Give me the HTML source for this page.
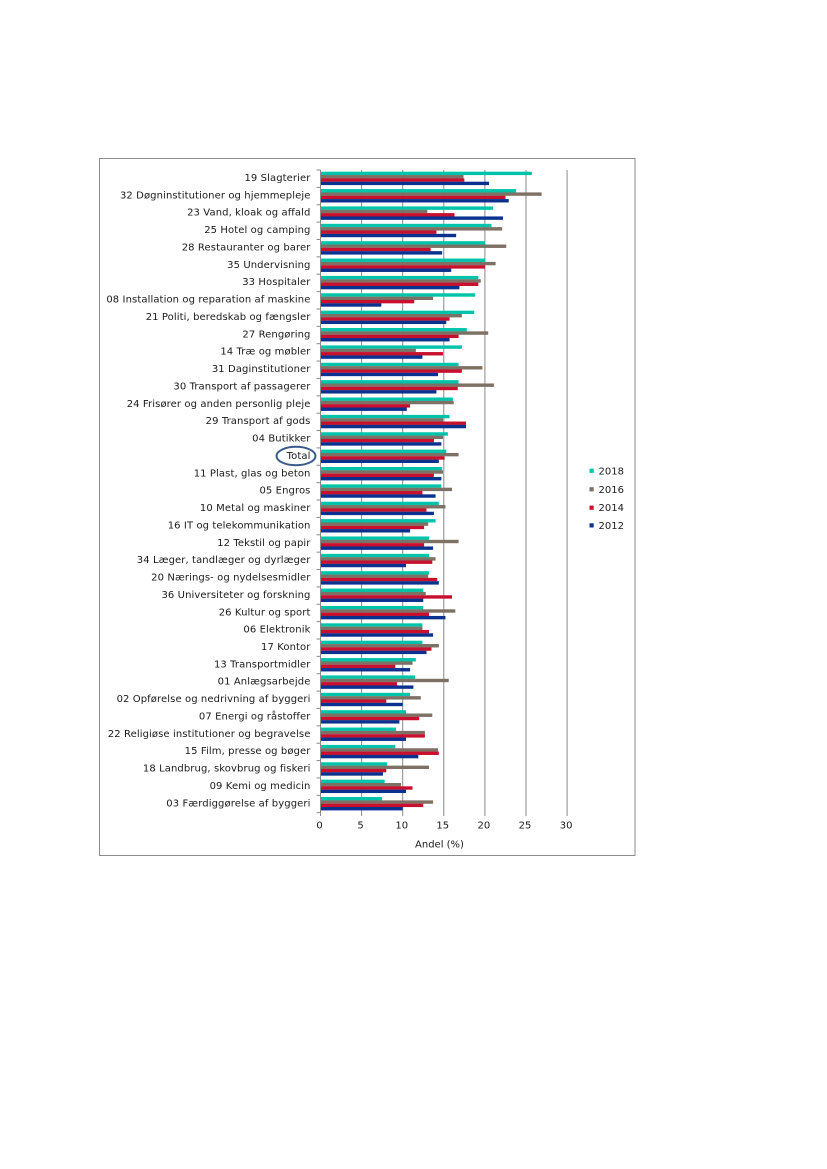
<!DOCTYPE html>
<html>
<head>
<meta charset="utf-8">
<style>
html,body{margin:0;padding:0;background:#fff;}
svg{display:block;}
text{font-family:"DejaVu Sans","Liberation Sans",sans-serif;fill:#1a1a1a;}
.cat text{letter-spacing:0.1px;}
</style>
</head>
<body>
<svg width="827" height="1169" viewBox="0 0 827 1169" xmlns="http://www.w3.org/2000/svg">
<rect x="0" y="0" width="827" height="1169" fill="#fff"/>
<rect x="99.5" y="158.5" width="535.5" height="697" fill="none" stroke="#8c8c8c" stroke-width="1"/>

<!-- gridlines -->
<g stroke="#8a8a8a" stroke-width="1">
<line x1="361.6" y1="170" x2="361.6" y2="816"/>
<line x1="402.7" y1="170" x2="402.7" y2="816"/>
<line x1="443.8" y1="170" x2="443.8" y2="816"/>
<line x1="484.9" y1="170" x2="484.9" y2="816"/>
<line x1="526" y1="170" x2="526" y2="816"/>
<line x1="567.1" y1="170" x2="567.1" y2="816"/>
</g>

<!-- bars -->
<g transform="translate(320.5,170) scale(8.22,17.37)">
<g transform="translate(0,0)"><rect y="0.098" height="0.196" width="25.7" fill="#00c4aa"/><rect y="0.29" height="0.196" width="17.4" fill="#7d7064"/><rect y="0.481" height="0.196" width="17.5" fill="#c8102e"/><rect y="0.673" height="0.196" width="20.5" fill="#0b318f"/></g>
<g transform="translate(0,1)"><rect y="0.098" height="0.196" width="23.8" fill="#00c4aa"/><rect y="0.29" height="0.196" width="26.9" fill="#7d7064"/><rect y="0.481" height="0.196" width="22.5" fill="#c8102e"/><rect y="0.673" height="0.196" width="22.9" fill="#0b318f"/></g>
<g transform="translate(0,2)"><rect y="0.098" height="0.196" width="21.0" fill="#00c4aa"/><rect y="0.29" height="0.196" width="13.0" fill="#7d7064"/><rect y="0.481" height="0.196" width="16.3" fill="#c8102e"/><rect y="0.673" height="0.196" width="22.2" fill="#0b318f"/></g>
<g transform="translate(0,3)"><rect y="0.098" height="0.196" width="20.8" fill="#00c4aa"/><rect y="0.29" height="0.196" width="22.1" fill="#7d7064"/><rect y="0.481" height="0.196" width="14.1" fill="#c8102e"/><rect y="0.673" height="0.196" width="16.5" fill="#0b318f"/></g>
<g transform="translate(0,4)"><rect y="0.098" height="0.196" width="20.0" fill="#00c4aa"/><rect y="0.29" height="0.196" width="22.6" fill="#7d7064"/><rect y="0.481" height="0.196" width="13.4" fill="#c8102e"/><rect y="0.673" height="0.196" width="14.8" fill="#0b318f"/></g>
<g transform="translate(0,5)"><rect y="0.098" height="0.196" width="20.0" fill="#00c4aa"/><rect y="0.29" height="0.196" width="21.3" fill="#7d7064"/><rect y="0.481" height="0.196" width="20.0" fill="#c8102e"/><rect y="0.673" height="0.196" width="15.9" fill="#0b318f"/></g>
<g transform="translate(0,6)"><rect y="0.098" height="0.196" width="19.2" fill="#00c4aa"/><rect y="0.29" height="0.196" width="19.5" fill="#7d7064"/><rect y="0.481" height="0.196" width="19.2" fill="#c8102e"/><rect y="0.673" height="0.196" width="16.9" fill="#0b318f"/></g>
<g transform="translate(0,7)"><rect y="0.098" height="0.196" width="18.8" fill="#00c4aa"/><rect y="0.29" height="0.196" width="13.7" fill="#7d7064"/><rect y="0.481" height="0.196" width="11.4" fill="#c8102e"/><rect y="0.673" height="0.196" width="7.4" fill="#0b318f"/></g>
<g transform="translate(0,8)"><rect y="0.098" height="0.196" width="18.7" fill="#00c4aa"/><rect y="0.29" height="0.196" width="17.2" fill="#7d7064"/><rect y="0.481" height="0.196" width="15.7" fill="#c8102e"/><rect y="0.673" height="0.196" width="15.3" fill="#0b318f"/></g>
<g transform="translate(0,9)"><rect y="0.098" height="0.196" width="17.8" fill="#00c4aa"/><rect y="0.29" height="0.196" width="20.4" fill="#7d7064"/><rect y="0.481" height="0.196" width="16.8" fill="#c8102e"/><rect y="0.673" height="0.196" width="15.7" fill="#0b318f"/></g>
<g transform="translate(0,10)"><rect y="0.098" height="0.196" width="17.2" fill="#00c4aa"/><rect y="0.29" height="0.196" width="11.6" fill="#7d7064"/><rect y="0.481" height="0.196" width="14.9" fill="#c8102e"/><rect y="0.673" height="0.196" width="12.4" fill="#0b318f"/></g>
<g transform="translate(0,11)"><rect y="0.098" height="0.196" width="16.8" fill="#00c4aa"/><rect y="0.29" height="0.196" width="19.7" fill="#7d7064"/><rect y="0.481" height="0.196" width="17.2" fill="#c8102e"/><rect y="0.673" height="0.196" width="14.3" fill="#0b318f"/></g>
<g transform="translate(0,12)"><rect y="0.098" height="0.196" width="16.8" fill="#00c4aa"/><rect y="0.29" height="0.196" width="21.1" fill="#7d7064"/><rect y="0.481" height="0.196" width="16.7" fill="#c8102e"/><rect y="0.673" height="0.196" width="14.1" fill="#0b318f"/></g>
<g transform="translate(0,13)"><rect y="0.098" height="0.196" width="16.1" fill="#00c4aa"/><rect y="0.29" height="0.196" width="16.2" fill="#7d7064"/><rect y="0.481" height="0.196" width="10.9" fill="#c8102e"/><rect y="0.673" height="0.196" width="10.5" fill="#0b318f"/></g>
<g transform="translate(0,14)"><rect y="0.098" height="0.196" width="15.7" fill="#00c4aa"/><rect y="0.29" height="0.196" width="14.9" fill="#7d7064"/><rect y="0.481" height="0.196" width="17.7" fill="#c8102e"/><rect y="0.673" height="0.196" width="17.7" fill="#0b318f"/></g>
<g transform="translate(0,15)"><rect y="0.098" height="0.196" width="15.5" fill="#00c4aa"/><rect y="0.29" height="0.196" width="14.9" fill="#7d7064"/><rect y="0.481" height="0.196" width="13.8" fill="#c8102e"/><rect y="0.673" height="0.196" width="14.7" fill="#0b318f"/></g>
<g transform="translate(0,16)"><rect y="0.098" height="0.196" width="15.3" fill="#00c4aa"/><rect y="0.29" height="0.196" width="16.8" fill="#7d7064"/><rect y="0.481" height="0.196" width="15.1" fill="#c8102e"/><rect y="0.673" height="0.196" width="14.4" fill="#0b318f"/></g>
<g transform="translate(0,17)"><rect y="0.098" height="0.196" width="14.8" fill="#00c4aa"/><rect y="0.29" height="0.196" width="14.9" fill="#7d7064"/><rect y="0.481" height="0.196" width="13.8" fill="#c8102e"/><rect y="0.673" height="0.196" width="14.7" fill="#0b318f"/></g>
<g transform="translate(0,18)"><rect y="0.098" height="0.196" width="14.7" fill="#00c4aa"/><rect y="0.29" height="0.196" width="16.0" fill="#7d7064"/><rect y="0.481" height="0.196" width="12.4" fill="#c8102e"/><rect y="0.673" height="0.196" width="14.0" fill="#0b318f"/></g>
<g transform="translate(0,19)"><rect y="0.098" height="0.196" width="14.4" fill="#00c4aa"/><rect y="0.29" height="0.196" width="15.2" fill="#7d7064"/><rect y="0.481" height="0.196" width="12.9" fill="#c8102e"/><rect y="0.673" height="0.196" width="13.8" fill="#0b318f"/></g>
<g transform="translate(0,20)"><rect y="0.098" height="0.196" width="14.0" fill="#00c4aa"/><rect y="0.29" height="0.196" width="13.1" fill="#7d7064"/><rect y="0.481" height="0.196" width="12.6" fill="#c8102e"/><rect y="0.673" height="0.196" width="10.9" fill="#0b318f"/></g>
<g transform="translate(0,21)"><rect y="0.098" height="0.196" width="13.2" fill="#00c4aa"/><rect y="0.29" height="0.196" width="16.8" fill="#7d7064"/><rect y="0.481" height="0.196" width="12.6" fill="#c8102e"/><rect y="0.673" height="0.196" width="13.7" fill="#0b318f"/></g>
<g transform="translate(0,22)"><rect y="0.098" height="0.196" width="13.2" fill="#00c4aa"/><rect y="0.29" height="0.196" width="14.0" fill="#7d7064"/><rect y="0.481" height="0.196" width="13.6" fill="#c8102e"/><rect y="0.673" height="0.196" width="10.4" fill="#0b318f"/></g>
<g transform="translate(0,23)"><rect y="0.098" height="0.196" width="13.2" fill="#00c4aa"/><rect y="0.29" height="0.196" width="13.1" fill="#7d7064"/><rect y="0.481" height="0.196" width="14.2" fill="#c8102e"/><rect y="0.673" height="0.196" width="14.4" fill="#0b318f"/></g>
<g transform="translate(0,24)"><rect y="0.098" height="0.196" width="12.5" fill="#00c4aa"/><rect y="0.29" height="0.196" width="12.8" fill="#7d7064"/><rect y="0.481" height="0.196" width="16.0" fill="#c8102e"/><rect y="0.673" height="0.196" width="12.5" fill="#0b318f"/></g>
<g transform="translate(0,25)"><rect y="0.098" height="0.196" width="12.5" fill="#00c4aa"/><rect y="0.29" height="0.196" width="16.4" fill="#7d7064"/><rect y="0.481" height="0.196" width="13.2" fill="#c8102e"/><rect y="0.673" height="0.196" width="15.2" fill="#0b318f"/></g>
<g transform="translate(0,26)"><rect y="0.098" height="0.196" width="12.4" fill="#00c4aa"/><rect y="0.29" height="0.196" width="12.4" fill="#7d7064"/><rect y="0.481" height="0.196" width="13.2" fill="#c8102e"/><rect y="0.673" height="0.196" width="13.7" fill="#0b318f"/></g>
<g transform="translate(0,27)"><rect y="0.098" height="0.196" width="12.4" fill="#00c4aa"/><rect y="0.29" height="0.196" width="14.4" fill="#7d7064"/><rect y="0.481" height="0.196" width="13.5" fill="#c8102e"/><rect y="0.673" height="0.196" width="12.9" fill="#0b318f"/></g>
<g transform="translate(0,28)"><rect y="0.098" height="0.196" width="11.6" fill="#00c4aa"/><rect y="0.29" height="0.196" width="11.2" fill="#7d7064"/><rect y="0.481" height="0.196" width="9.1" fill="#c8102e"/><rect y="0.673" height="0.196" width="10.9" fill="#0b318f"/></g>
<g transform="translate(0,29)"><rect y="0.098" height="0.196" width="11.5" fill="#00c4aa"/><rect y="0.29" height="0.196" width="15.6" fill="#7d7064"/><rect y="0.481" height="0.196" width="9.3" fill="#c8102e"/><rect y="0.673" height="0.196" width="11.3" fill="#0b318f"/></g>
<g transform="translate(0,30)"><rect y="0.098" height="0.196" width="10.9" fill="#00c4aa"/><rect y="0.29" height="0.196" width="12.2" fill="#7d7064"/><rect y="0.481" height="0.196" width="8.0" fill="#c8102e"/><rect y="0.673" height="0.196" width="10.0" fill="#0b318f"/></g>
<g transform="translate(0,31)"><rect y="0.098" height="0.196" width="10.4" fill="#00c4aa"/><rect y="0.29" height="0.196" width="13.6" fill="#7d7064"/><rect y="0.481" height="0.196" width="12.0" fill="#c8102e"/><rect y="0.673" height="0.196" width="9.6" fill="#0b318f"/></g>
<g transform="translate(0,32)"><rect y="0.098" height="0.196" width="9.2" fill="#00c4aa"/><rect y="0.29" height="0.196" width="12.7" fill="#7d7064"/><rect y="0.481" height="0.196" width="12.7" fill="#c8102e"/><rect y="0.673" height="0.196" width="10.4" fill="#0b318f"/></g>
<g transform="translate(0,33)"><rect y="0.098" height="0.196" width="9.1" fill="#00c4aa"/><rect y="0.29" height="0.196" width="14.3" fill="#7d7064"/><rect y="0.481" height="0.196" width="14.4" fill="#c8102e"/><rect y="0.673" height="0.196" width="11.9" fill="#0b318f"/></g>
<g transform="translate(0,34)"><rect y="0.098" height="0.196" width="8.1" fill="#00c4aa"/><rect y="0.29" height="0.196" width="13.2" fill="#7d7064"/><rect y="0.481" height="0.196" width="8.0" fill="#c8102e"/><rect y="0.673" height="0.196" width="7.6" fill="#0b318f"/></g>
<g transform="translate(0,35)"><rect y="0.098" height="0.196" width="7.8" fill="#00c4aa"/><rect y="0.29" height="0.196" width="9.8" fill="#7d7064"/><rect y="0.481" height="0.196" width="11.2" fill="#c8102e"/><rect y="0.673" height="0.196" width="10.4" fill="#0b318f"/></g>
<g transform="translate(0,36)"><rect y="0.098" height="0.196" width="7.5" fill="#00c4aa"/><rect y="0.29" height="0.196" width="13.7" fill="#7d7064"/><rect y="0.481" height="0.196" width="12.5" fill="#c8102e"/><rect y="0.673" height="0.196" width="10.0" fill="#0b318f"/></g>
</g>

<!-- left axis and ticks -->
<g stroke="#8a8a8a" stroke-width="1">
<line x1="320.5" y1="170" x2="320.5" y2="816"/>
<line x1="316.5" y1="170" x2="320.5" y2="170"/>
<line x1="316.5" y1="187.37" x2="320.5" y2="187.37"/>
<line x1="316.5" y1="204.74" x2="320.5" y2="204.74"/>
<line x1="316.5" y1="222.11" x2="320.5" y2="222.11"/>
<line x1="316.5" y1="239.48" x2="320.5" y2="239.48"/>
<line x1="316.5" y1="256.85" x2="320.5" y2="256.85"/>
<line x1="316.5" y1="274.22" x2="320.5" y2="274.22"/>
<line x1="316.5" y1="291.59" x2="320.5" y2="291.59"/>
<line x1="316.5" y1="308.96" x2="320.5" y2="308.96"/>
<line x1="316.5" y1="326.33" x2="320.5" y2="326.33"/>
<line x1="316.5" y1="343.7" x2="320.5" y2="343.7"/>
<line x1="316.5" y1="361.07" x2="320.5" y2="361.07"/>
<line x1="316.5" y1="378.44" x2="320.5" y2="378.44"/>
<line x1="316.5" y1="395.81" x2="320.5" y2="395.81"/>
<line x1="316.5" y1="413.18" x2="320.5" y2="413.18"/>
<line x1="316.5" y1="430.55" x2="320.5" y2="430.55"/>
<line x1="316.5" y1="447.92" x2="320.5" y2="447.92"/>
<line x1="316.5" y1="465.29" x2="320.5" y2="465.29"/>
<line x1="316.5" y1="482.66" x2="320.5" y2="482.66"/>
<line x1="316.5" y1="500.03" x2="320.5" y2="500.03"/>
<line x1="316.5" y1="517.4" x2="320.5" y2="517.4"/>
<line x1="316.5" y1="534.77" x2="320.5" y2="534.77"/>
<line x1="316.5" y1="552.14" x2="320.5" y2="552.14"/>
<line x1="316.5" y1="569.51" x2="320.5" y2="569.51"/>
<line x1="316.5" y1="586.88" x2="320.5" y2="586.88"/>
<line x1="316.5" y1="604.25" x2="320.5" y2="604.25"/>
<line x1="316.5" y1="621.62" x2="320.5" y2="621.62"/>
<line x1="316.5" y1="638.99" x2="320.5" y2="638.99"/>
<line x1="316.5" y1="656.36" x2="320.5" y2="656.36"/>
<line x1="316.5" y1="673.73" x2="320.5" y2="673.73"/>
<line x1="316.5" y1="691.1" x2="320.5" y2="691.1"/>
<line x1="316.5" y1="708.47" x2="320.5" y2="708.47"/>
<line x1="316.5" y1="725.84" x2="320.5" y2="725.84"/>
<line x1="316.5" y1="743.21" x2="320.5" y2="743.21"/>
<line x1="316.5" y1="760.58" x2="320.5" y2="760.58"/>
<line x1="316.5" y1="777.95" x2="320.5" y2="777.95"/>
<line x1="316.5" y1="795.32" x2="320.5" y2="795.32"/>
<line x1="316.5" y1="812.69" x2="320.5" y2="812.69"/>
</g>

<!-- category labels -->
<g class="cat" font-size="10" text-anchor="end">
<text x="310.5" y="181">19 Slagterier</text>
<text x="310.5" y="198.37">32 Døgninstitutioner og hjemmepleje</text>
<text x="310.5" y="215.74">23 Vand, kloak og affald</text>
<text x="310.5" y="233.11">25 Hotel og camping</text>
<text x="310.5" y="250.48">28 Restauranter og barer</text>
<text x="310.5" y="267.85">35 Undervisning</text>
<text x="310.5" y="285.22">33 Hospitaler</text>
<text x="310.5" y="302.59">08 Installation og reparation af maskine</text>
<text x="310.5" y="319.96">21 Politi, beredskab og fængsler</text>
<text x="310.5" y="337.33">27 Rengøring</text>
<text x="310.5" y="354.7">14 Træ og møbler</text>
<text x="310.5" y="372.07">31 Daginstitutioner</text>
<text x="310.5" y="389.44">30 Transport af passagerer</text>
<text x="310.5" y="406.81">24 Frisører og anden personlig pleje</text>
<text x="310.5" y="424.18">29 Transport af gods</text>
<text x="310.5" y="441.55">04 Butikker</text>
<text x="310.5" y="458.92">Total</text>
<text x="310.5" y="476.29">11 Plast, glas og beton</text>
<text x="310.5" y="493.66">05 Engros</text>
<text x="310.5" y="511.03">10 Metal og maskiner</text>
<text x="310.5" y="528.4">16 IT og telekommunikation</text>
<text x="310.5" y="545.77">12 Tekstil og papir</text>
<text x="310.5" y="563.14">34 Læger, tandlæger og dyrlæger</text>
<text x="310.5" y="580.51">20 Nærings- og nydelsesmidler</text>
<text x="310.5" y="597.88">36 Universiteter og forskning</text>
<text x="310.5" y="615.25">26 Kultur og sport</text>
<text x="310.5" y="632.62">06 Elektronik</text>
<text x="310.5" y="649.99">17 Kontor</text>
<text x="310.5" y="667.36">13 Transportmidler</text>
<text x="310.5" y="684.73">01 Anlægsarbejde</text>
<text x="310.5" y="702.1">02 Opførelse og nedrivning af byggeri</text>
<text x="310.5" y="719.47">07 Energi og råstoffer</text>
<text x="310.5" y="736.84">22 Religiøse institutioner og begravelse</text>
<text x="310.5" y="754.21">15 Film, presse og bøger</text>
<text x="310.5" y="771.58">18 Landbrug, skovbrug og fiskeri</text>
<text x="310.5" y="788.95">09 Kemi og medicin</text>
<text x="310.5" y="806.32">03 Færdiggørelse af byggeri</text>
</g>

<!-- Total highlight -->
<ellipse cx="296" cy="456" rx="19.5" ry="9.2" fill="none" stroke="#3a5a8c" stroke-width="2"/>

<!-- x tick labels -->
<g font-size="10" text-anchor="middle">
<text x="319.5" y="828.5">0</text>
<text x="360.6" y="828.5">5</text>
<text x="401.7" y="828.5">10</text>
<text x="442.8" y="828.5">15</text>
<text x="483.9" y="828.5">20</text>
<text x="525" y="828.5">25</text>
<text x="566.1" y="828.5">30</text>
<text x="439.5" y="847.5">Andel (%)</text>
</g>

<!-- legend -->
<g font-size="10">
<rect x="589.5" y="468.7" width="4.2" height="4.2" fill="#00c4aa"/>
<text x="598.5" y="474.3">2018</text>
<rect x="589.5" y="487.2" width="4.2" height="4.2" fill="#7d7064"/>
<text x="598.5" y="492.8">2016</text>
<rect x="589.5" y="505.6" width="4.2" height="4.2" fill="#c8102e"/>
<text x="598.5" y="511.2">2014</text>
<rect x="589.5" y="523.3" width="4.2" height="4.2" fill="#0b318f"/>
<text x="598.5" y="528.9">2012</text>
</g>
</svg>
</body>
</html>
